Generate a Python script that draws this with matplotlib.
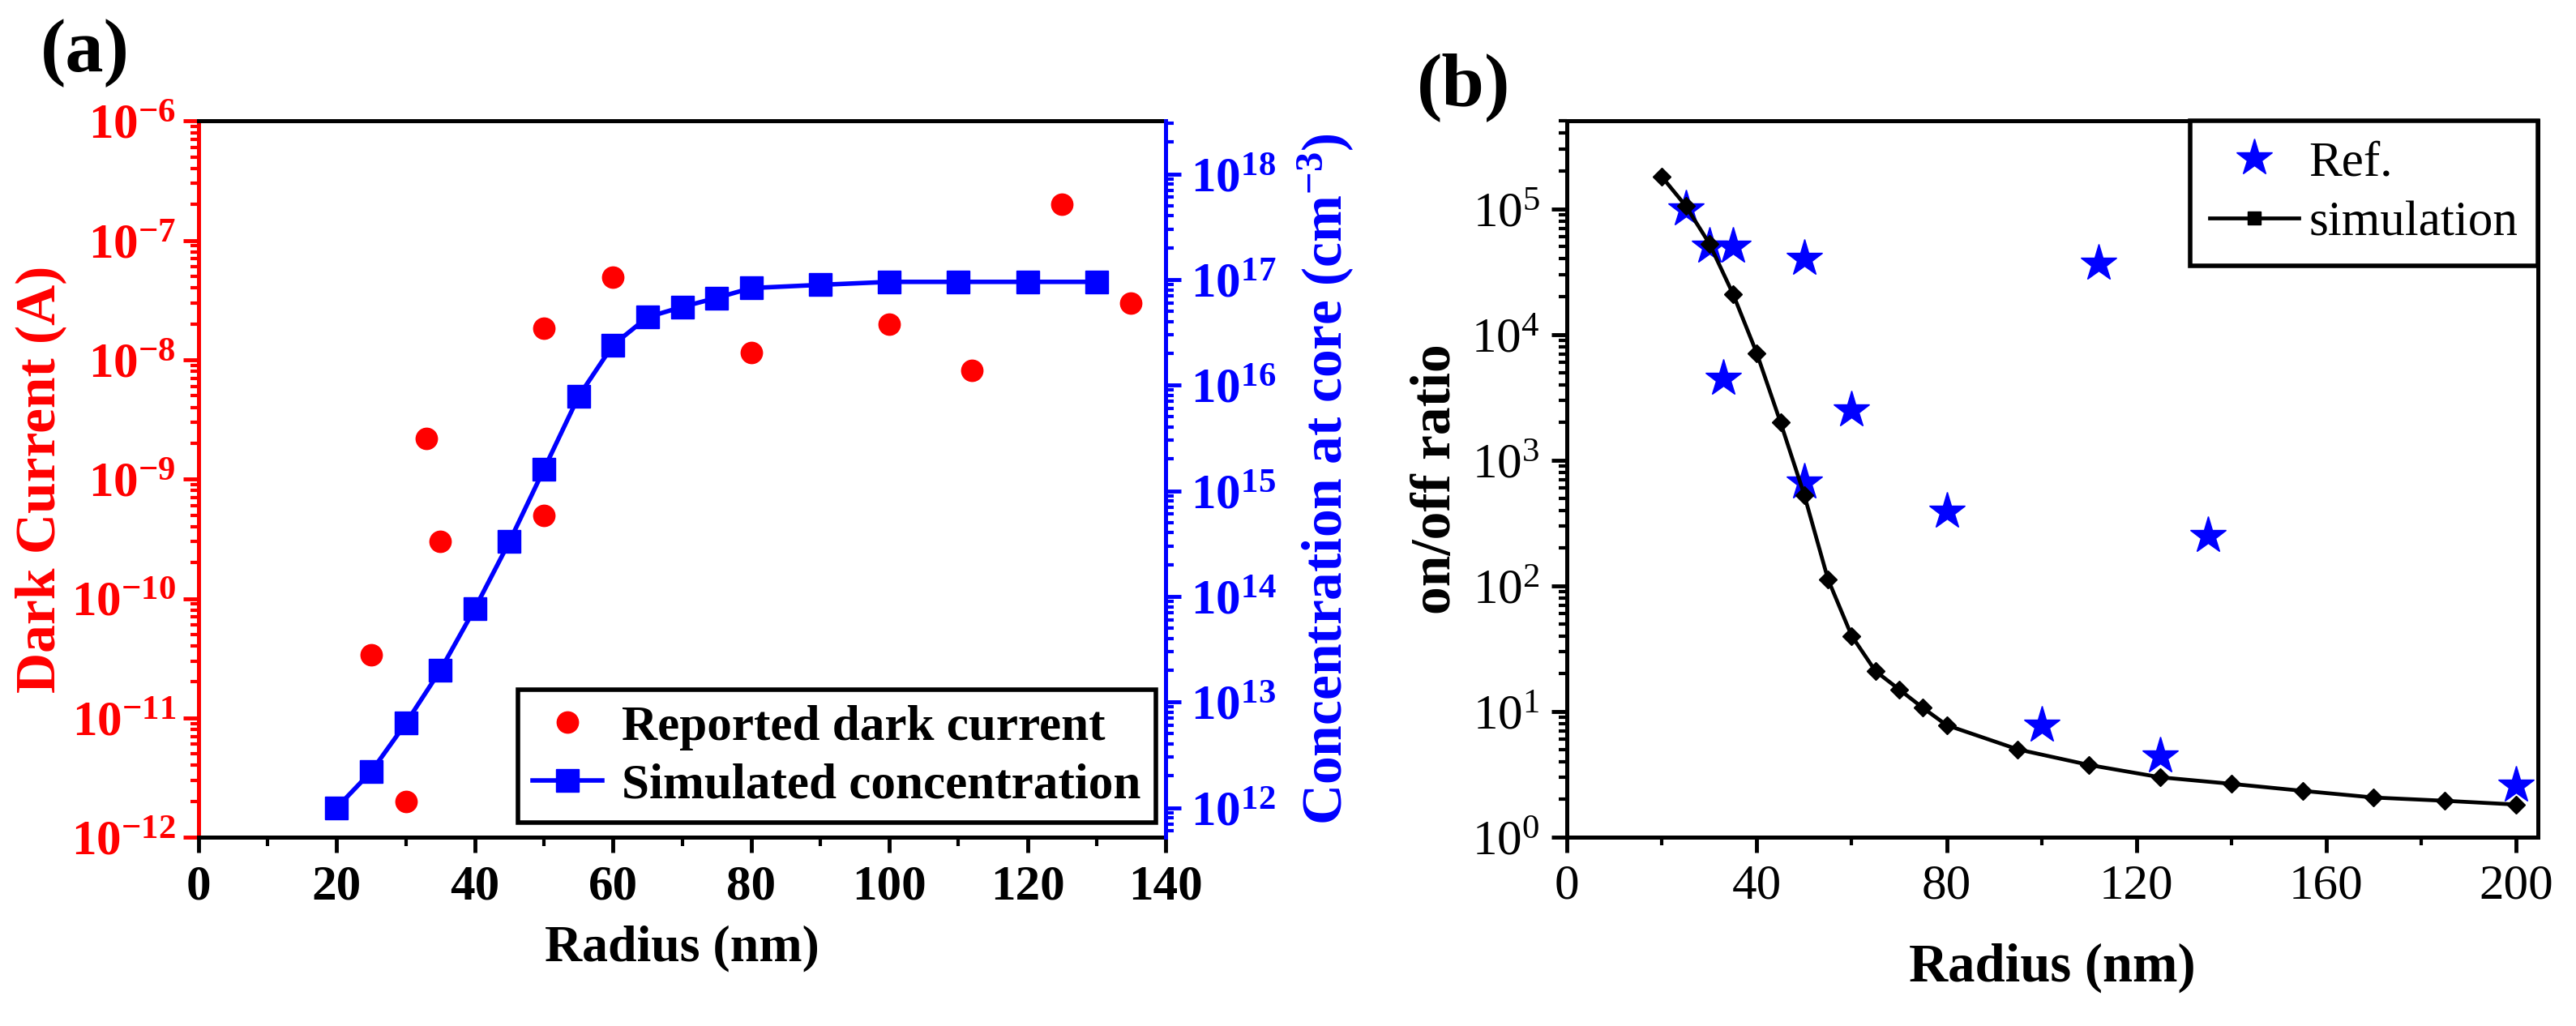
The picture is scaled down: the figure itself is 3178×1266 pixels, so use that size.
import matplotlib
matplotlib.use('Agg')
import matplotlib.pyplot as plt
from matplotlib.lines import Line2D
from matplotlib.ticker import LogLocator, MultipleLocator, NullFormatter

plt.rcParams['font.family'] = ['Liberation Serif', 'DejaVu Serif']
plt.rcParams['font.weight'] = 'bold'
plt.rcParams['mathtext.default'] = 'regular'

# ---- data, panel (a) ----
r_sim = [20, 25, 30, 35, 40, 45, 50, 55, 60, 65, 70, 75, 80, 90, 100, 110, 120, 130]
conc_sim = [1.0e12, 2.2e12, 6.3e12, 2.0e13, 7.7e13, 3.3e14, 1.6e15, 7.8e15, 2.4e16,
            4.4e16, 5.5e16, 6.7e16, 8.3e16, 8.9e16, 9.5e16, 9.5e16, 9.5e16, 9.5e16]
r_dark = [25, 30, 33, 35, 50, 50, 60, 80, 100, 112, 125, 135]
i_dark = [3.4e-11, 2.0e-12, 2.2e-9, 3.0e-10, 5.0e-10, 1.85e-8, 4.9e-8, 1.15e-8,
          2.0e-8, 8.1e-9, 2.0e-7, 3.0e-8]
a_xticks = [0, 20, 40, 60, 80, 100, 120, 140]
a_left_exp = [-12, -11, -10, -9, -8, -7, -6]
a_right_exp = [12, 13, 14, 15, 16, 17, 18]

# ---- data, panel (b) ----
r_ref = [25, 30, 33, 35, 50, 50, 60, 80, 100, 112, 125, 135, 200]
ratio_ref = [1.0e5, 5.0e4, 4.5e3, 5.0e4, 4.0e4, 6.7e2, 2.5e3, 3.9e2, 7.8, 3.7e4, 4.4, 2.5e2, 2.6]
r_ratio = [20, 25, 30, 35, 40, 45, 50, 55, 60, 65, 70, 75, 80, 95, 110, 125, 140, 155, 170, 185, 200]
ratio_sim = [1.8e5, 1.06e5, 5.3e4, 2.1e4, 7.1e3, 2.0e3, 5.3e2, 113, 40, 21, 15, 10.7, 7.8,
             5.0, 3.76, 3.0, 2.66, 2.34, 2.07, 1.95, 1.82]
b_xticks = [0, 40, 80, 120, 160, 200]
b_exp = [0, 1, 2, 3, 4, 5]

fig = plt.figure(figsize=(31.78, 12.66), dpi=100)

# ================= panel (a) =================
ax1 = fig.add_axes([0.0771, 0.184, 0.3754, 0.698])
ax2 = ax1.twinx()

ax1.plot(r_dark, i_dark, 'o', color='red', ms=19, ls='none', label='Reported dark current')
ax2.plot(r_sim, conc_sim, '-s', color='blue', ms=20, lw=4, label='Simulated concentration')

ax1.set_xlim(0, 140)
ax1.set_yscale('log')
ax1.set_ylim(1e-12, 1e-6)
ax2.set_yscale('log')
ax2.set_ylim(10**11.72, 10**18.5)

ax1.set_xticks(a_xticks, labels=[str(v) for v in a_xticks], fontsize=44, fontweight='bold')
ax1.xaxis.set_minor_locator(MultipleLocator(10))
ax1.set_yticks([10.0**e for e in a_left_exp],
               labels=['$10^{%d}$' % e for e in a_left_exp], fontsize=44, fontweight='bold')
ax1.yaxis.set_minor_locator(LogLocator(base=10, subs=range(2, 10), numticks=50))
ax1.yaxis.set_minor_formatter(NullFormatter())
ax2.set_yticks([10.0**e for e in a_right_exp],
               labels=['$10^{%d}$' % e for e in a_right_exp], fontsize=44, fontweight='bold')
ax2.yaxis.set_minor_locator(LogLocator(base=10, subs=range(2, 10), numticks=50))
ax2.yaxis.set_minor_formatter(NullFormatter())

ax1.tick_params(axis='x', which='major', direction='out', length=14, width=3.5, pad=10)
ax1.tick_params(axis='x', which='minor', direction='out', length=8, width=3)
ax1.tick_params(axis='y', which='major', direction='out', length=14, width=3.5,
                colors='red', pad=6)
ax1.tick_params(axis='y', which='minor', direction='out', length=7, width=3, colors='red')
ax2.tick_params(axis='y', which='major', direction='out', length=14, width=3.5,
                colors='blue', pad=8)
ax2.tick_params(axis='y', which='minor', direction='out', length=7, width=3, colors='blue')

for s in ax1.spines.values():
    s.set_linewidth(3.6)
ax1.spines['left'].set_color('red')
ax1.spines['right'].set_visible(False)
for k in ['left', 'top', 'bottom']:
    ax2.spines[k].set_visible(False)
ax2.spines['right'].set_color('blue')
ax2.spines['right'].set_linewidth(3.6)

ax1.set_xlabel('Radius (nm)', fontsize=46, fontweight='bold', labelpad=14)
ax1.set_ylabel('Dark Current (A)', fontsize=50, fontweight='bold', color='red', labelpad=4)
ax2.set_ylabel('Concentration at core (cm$^{-3}$)', fontsize=50, fontweight='bold',
               color='blue', labelpad=18)

h1, l1 = ax1.get_legend_handles_labels()
h2, l2 = ax2.get_legend_handles_labels()
leg = ax2.legend(h1 + h2, l1 + l2, loc='lower right', bbox_to_anchor=(0.99, 0.02),
                 prop={'weight': 'bold', 'size': 44}, fancybox=False, framealpha=1,
                 edgecolor='black', handlelength=1.4, handletextpad=0.4,
                 borderpad=0.3, labelspacing=0.25, borderaxespad=0)
leg.get_frame().set_linewidth(4)

fig.text(105 / 3178, 1 - 66 / 1266, '(a)', fontsize=68, fontweight='bold',
         ha='center', va='center')

# ================= panel (b) =================
ax3 = fig.add_axes([0.6083, 0.184, 0.3769, 0.698])
ax3.plot(r_ref, ratio_ref, '*', color='blue', ms=34, ls='none', label='Ref.')
ax3.plot(r_ratio, ratio_sim, '-', color='black', marker='D', ms=11, lw=3.4,
         label='simulation')

ax3.set_xlim(0, 204.6)
ax3.set_yscale('log')
ax3.set_ylim(1, 5e5)
ax3.set_xticks(b_xticks, labels=[str(v) for v in b_xticks], fontsize=44, fontweight='normal')
ax3.xaxis.set_minor_locator(MultipleLocator(20))
ax3.set_yticks([10.0**e for e in b_exp], labels=['$10^{%d}$' % e for e in b_exp],
               fontsize=44, fontweight='normal')
ax3.yaxis.set_minor_locator(LogLocator(base=10, subs=range(2, 10), numticks=50))
ax3.yaxis.set_minor_formatter(NullFormatter())
ax3.tick_params(which='major', direction='out', length=14, width=3.5, pad=10)
ax3.tick_params(which='minor', direction='out', length=7, width=3)
for s in ax3.spines.values():
    s.set_linewidth(3.6)

ax3.set_xlabel('Radius (nm)', fontsize=48, fontweight='bold', labelpad=30)
ax3.set_ylabel('on/off ratio', fontsize=50, fontweight='bold', labelpad=8)

# legend: simulation shown with a small square marker as in the original
h3, l3 = ax3.get_legend_handles_labels()
h3[1] = Line2D([], [], color='black', marker='s', ms=12, lw=3.4)
leg3 = ax3.legend(h3, l3, loc='upper right', bbox_to_anchor=(1, 1), borderaxespad=0,
                  prop={'weight': 'normal', 'size': 44}, fancybox=False, framealpha=1,
                  edgecolor='black', handlelength=1.8, handletextpad=0.2,
                  borderpad=0.4, labelspacing=0.3)
leg3.get_frame().set_linewidth(4)

fig.text(1806 / 3178, 1 - 108 / 1266, '(b)', fontsize=68, fontweight='bold',
         ha='center', va='center')

fig.savefig('out.png', dpi=100)
